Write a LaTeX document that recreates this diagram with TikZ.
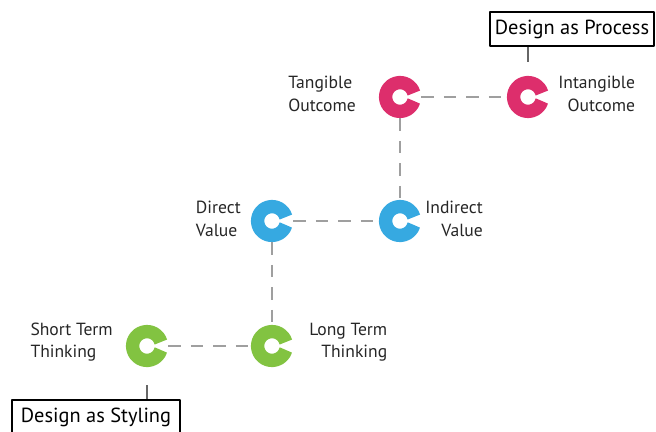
\documentclass[tikz,border=0pt]{standalone}
\usepackage{fontspec}
\setmainfont{PT Sans}
\usepackage{tikz}
\definecolor{pinkring}{HTML}{DD2E6C}
\definecolor{bluering}{HTML}{36A9E1}
\definecolor{greenring}{HTML}{82C341}

\begin{document}
\begin{tikzpicture}[x=0.025cm,y=-0.025cm,line join=round,
  ringnode/.style={circle,minimum size=1.05cm,inner sep=0pt},
  link/.style={draw=gray!75,line width=1.4pt,dash pattern=on 9pt off 7pt},
  stub/.style={draw=gray!80!black,line width=1.2pt},
  txt/.style={font=\fontsize{12.5}{16}\selectfont,text=black!85,inner sep=0pt},
  boxed/.style={draw,line width=1.5pt,font=\fontsize{14.5}{16}\selectfont,inner sep=0pt,minimum height=0.85cm}]
\useasboundingbox (0,0) rectangle (656,432);
\clip (0,0) rectangle (656,432);
% circles
\node[ringnode] (tang) at (400,97) {};
\node[ringnode] (intang) at (528,97) {};
\node[ringnode] (direct) at (272,221) {};
\node[ringnode] (indirect) at (400,221) {};
\node[ringnode] (short) at (147,346) {};
\node[ringnode] (long) at (272,346) {};
\foreach \n/\c in {tang/pinkring,intang/pinkring,direct/bluering,indirect/bluering,short/greenring,long/greenring}
  \draw[\c,line width=9.5pt] (\n.center) ++(16:0.36cm) arc[start angle=16,end angle=344,radius=0.36cm];
% labels
\node[txt,align=left,anchor=east] (tanglbl) at (356,94) {Tangible\\Outcome};
\node[txt,align=right,anchor=west] (intanglbl) at (558,94) {Intangible\\Outcome};
\node[txt,align=left,anchor=east] (directlbl) at (241,219) {Direct\\Value};
\node[txt,align=right,anchor=west] (indirectlbl) at (425,219) {Indirect\\Value};
\node[txt,align=left,anchor=east] (shortlbl) at (113,342) {Short Term\\Thinking};
\node[txt,align=right,anchor=west] (longlbl) at (309,342) {Long Term\\Thinking};
% boxes
\node[boxed,minimum width=4.1cm] (process) at (572,29) {Design as Process};
\node[boxed,minimum width=4.2cm] (styling) at (96,417) {Design as Styling};
% dashed links
\draw[link] (tang) -- (intang);
\draw[link] (tang) -- (indirect);
\draw[link] (direct) -- (indirect);
\draw[link] (direct) -- (long);
\draw[link] (short) -- (long);
\draw[stub,shorten >=0.35cm] (intang |- process.south) -- (intang);
\draw[stub,shorten >=0.45cm] (short |- styling.north) -- (short);
\end{tikzpicture}
\end{document}
